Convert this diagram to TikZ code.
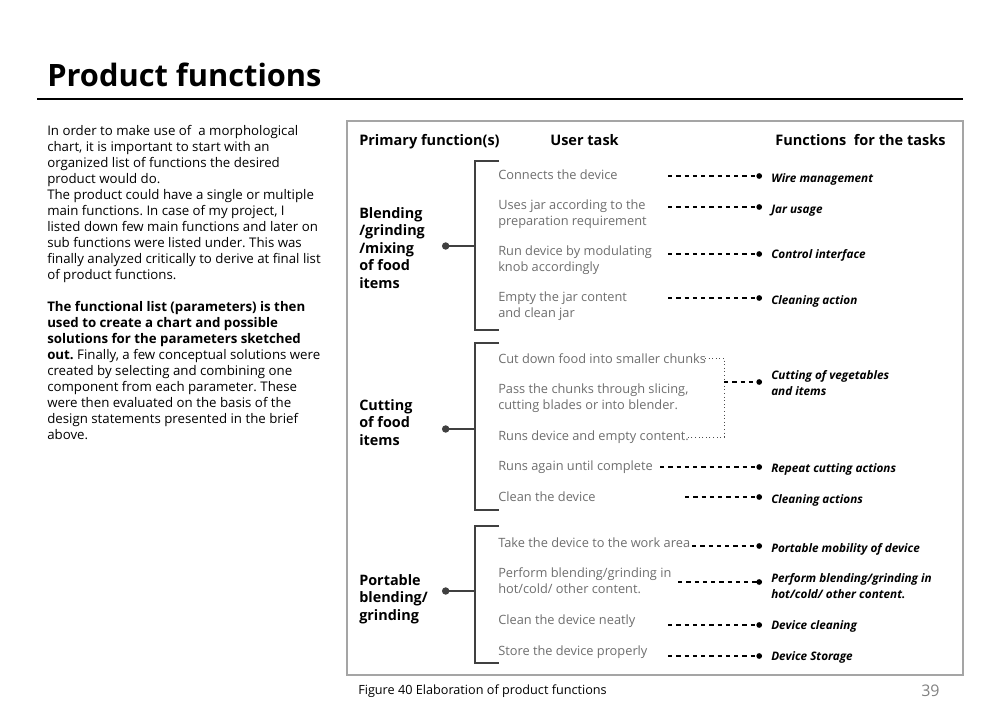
\documentclass[tikz,border=0pt]{standalone}
\usepackage{fontspec}
\setmainfont{Open Sans}
\usetikzlibrary{arrows.meta}
\definecolor{taskgray}{RGB}{110,110,110}
\definecolor{boxgray}{RGB}{165,165,165}
\definecolor{numgray}{RGB}{130,130,130}
\frenchspacing
\begin{document}
\begin{tikzpicture}[x=0.75pt,y=-0.75pt,
  body/.style={anchor=base west,inner sep=0,align=left,font=\fontsize{9.95}{12}\selectfont},
  head/.style={anchor=base west,inner sep=0,font=\bfseries\fontsize{10.9}{13}\selectfont},
  prim/.style={anchor=base west,inner sep=0,align=left,font=\bfseries\fontsize{10.8}{13.1}\selectfont},
  task/.style={anchor=base west,inner sep=0,align=left,text=taskgray,font=\fontsize{9.6}{11.3}\selectfont},
  func/.style={anchor=base west,inner sep=0,align=left,font=\bfseries\itshape\fontsize{8.8}{11.3}\selectfont},
  conn/.style={line width=1.1pt,dash pattern=on 3.2pt off 3pt,-{Circle[length=4.2pt]}},
  brk/.style={line width=0.85pt,draw=black!75},
  stem/.style={line width=0.85pt,draw=black!75,-{Circle[length=5.5pt]}}]
\useasboundingbox (0,0) rectangle (1000,724);
\fill[white] (0,0) rectangle (1000,724);

% title
\node[anchor=base west,inner sep=0,font=\bfseries\fontsize{23.1}{28}\selectfont] (title) at (47,87) {Product functions};
\draw[line width=2.2pt] (37,99) -- (963,99);

% body text (anchor = baseline of last line)
\node[body] (txt) at (47,439) {In order to make use of\ \ a morphological\\
chart, it is important to start with an\\
organized list of functions the desired\\
product would do.\\
The product could have a single or multiple\\
main functions. In case of my project, I\\
listed down few main functions and later on\\
sub functions were listed under. This was\\
finally analyzed critically to derive at final list\\
of product functions.\\[12pt]
\textbf{The functional list (parameters) is then}\\
\textbf{used to create a chart and possible}\\
\textbf{solutions for the parameters sketched}\\
\textbf{out.} Finally, a few conceptual solutions were\\
created by selecting and combining one\\
component from each parameter. These\\
were then evaluated on the basis of the\\
design statements presented in the brief\\
above.};

% frame
\draw[boxgray,line width=0.9pt] (347,121) rectangle (963,675);

% headers
\node[head] (h1) at (359,146) {Primary function(s)};
\node[head] (h2) at (550,146) {User task};
\node[head] (h3) at (775,146) {Functions\ \ for the tasks};

% primary functions
\node[prim] (p1) at (359,288) {Blending\\/grinding\\/mixing\\of food\\items};
\node[prim] (p2) at (359,445) {Cutting\\of food\\items};
\node[prim] (p3) at (359,620) {Portable\\blending/\\grinding};

% brackets
\draw[brk] (499,161) -- (475,161) -- (475,330) -- (499,330);
\coordinate (b1) at (475,246);
\coordinate (s1) at (442,246);
\draw[stem] (b1) -- (s1);

\draw[brk] (499,343) -- (475,343) -- (475,510) -- (499,510);
\coordinate (b2) at (475,429);
\coordinate (s2) at (442,429);
\draw[stem] (b2) -- (s2);

\draw[brk] (499,526) -- (475,526) -- (475,663) -- (499,663);
\coordinate (b3) at (475,591);
\coordinate (s3) at (442,591);
\draw[stem] (b3) -- (s3);

% tasks group 1
\node[task] (t1) at (498,179) {Connects the device};
\node[task] (t2) at (498,225) {Uses jar according to the\\preparation requirement};
\node[task] (t3) at (498,271) {Run device by modulating\\knob accordingly};
\node[task] (t4) at (498,317) {Empty the jar content\\and clean jar};
% tasks group 2
\node[task] (t5) at (498,363) {Cut down food into smaller chunks};
\node[task] (t6) at (498,409) {Pass the chunks through slicing,\\cutting blades or into blender.};
\node[task] (t7) at (498,440) {Runs device and empty content.};
\node[task] (t8) at (498,470) {Runs again until complete};
\node[task] (t9) at (498,501) {Clean the device};
% tasks group 3
\node[task] (t10) at (498,547) {Take the device to the work area};
\node[task] (t11) at (498,593) {Perform blending/grinding in\\hot/cold/ other content.};
\node[task] (t12) at (498,624) {Clean the device neatly};
\node[task] (t13) at (498,655) {Store the device properly};

% functions
\node[func] (f1) at (771,182) {Wire management};
\node[func] (f2) at (771,213) {Jar usage};
\node[func] (f3) at (771,258) {Control interface};
\node[func] (f4) at (771,304) {Cleaning action};
\node[func] (f5) at (771,395) {Cutting of vegetables\\and items};
\node[func] (f6) at (771,472) {Repeat cutting actions};
\node[func] (f7) at (771,503) {Cleaning actions};
\node[func] (f8) at (771,552) {Portable mobility of device};
\node[func] (f9) at (771,598) {Perform blending/grinding in\\hot/cold/ other content.};
\node[func] (f10) at (771,629) {Device cleaning};
\node[func] (f11) at (771,660) {Device Storage};

% connectors
\coordinate (a1) at (668,176);  \coordinate (e1) at (762,176);
\coordinate (a2) at (668,207);  \coordinate (e2) at (762,207);
\coordinate (a3) at (668,254);  \coordinate (e3) at (762,254);
\coordinate (a4) at (668,298);  \coordinate (e4) at (762,298);
\coordinate (a6) at (660,467);  \coordinate (e6) at (762,467);
\coordinate (a7) at (685,497);  \coordinate (e7) at (762,497);
\coordinate (a8) at (692,546);  \coordinate (e8) at (762,546);
\coordinate (a9) at (678,582);  \coordinate (e9) at (762,582);
\coordinate (a10) at (668,625); \coordinate (e10) at (762,625);
\coordinate (a11) at (668,656); \coordinate (e11) at (762,656);
\foreach \i in {1,2,3,4,6,7,8,9,10,11} \draw[conn] (a\i) -- (e\i);

% dotted grouping bracket
\coordinate (g1) at (705,358);
\coordinate (g2) at (724,358);
\coordinate (g3) at (724,437);
\coordinate (g4) at (686,437);
\draw[dotted,line width=0.7pt,black!70] (g1) -- (g2) -- (g3) -- (g4);
\coordinate (a5) at (724,382); \coordinate (e5) at (762,382);
\draw[conn] (a5) -- (e5);

% caption
\node[anchor=base west,inner sep=0,font=\fontsize{9.5}{11}\selectfont] (cap) at (358,694) {Figure 40 Elaboration of product functions};
\node[anchor=base west,inner sep=0,text=numgray,font=\fontsize{12}{14}\selectfont] (pg) at (921,696) {39};
\end{tikzpicture}
\end{document}
